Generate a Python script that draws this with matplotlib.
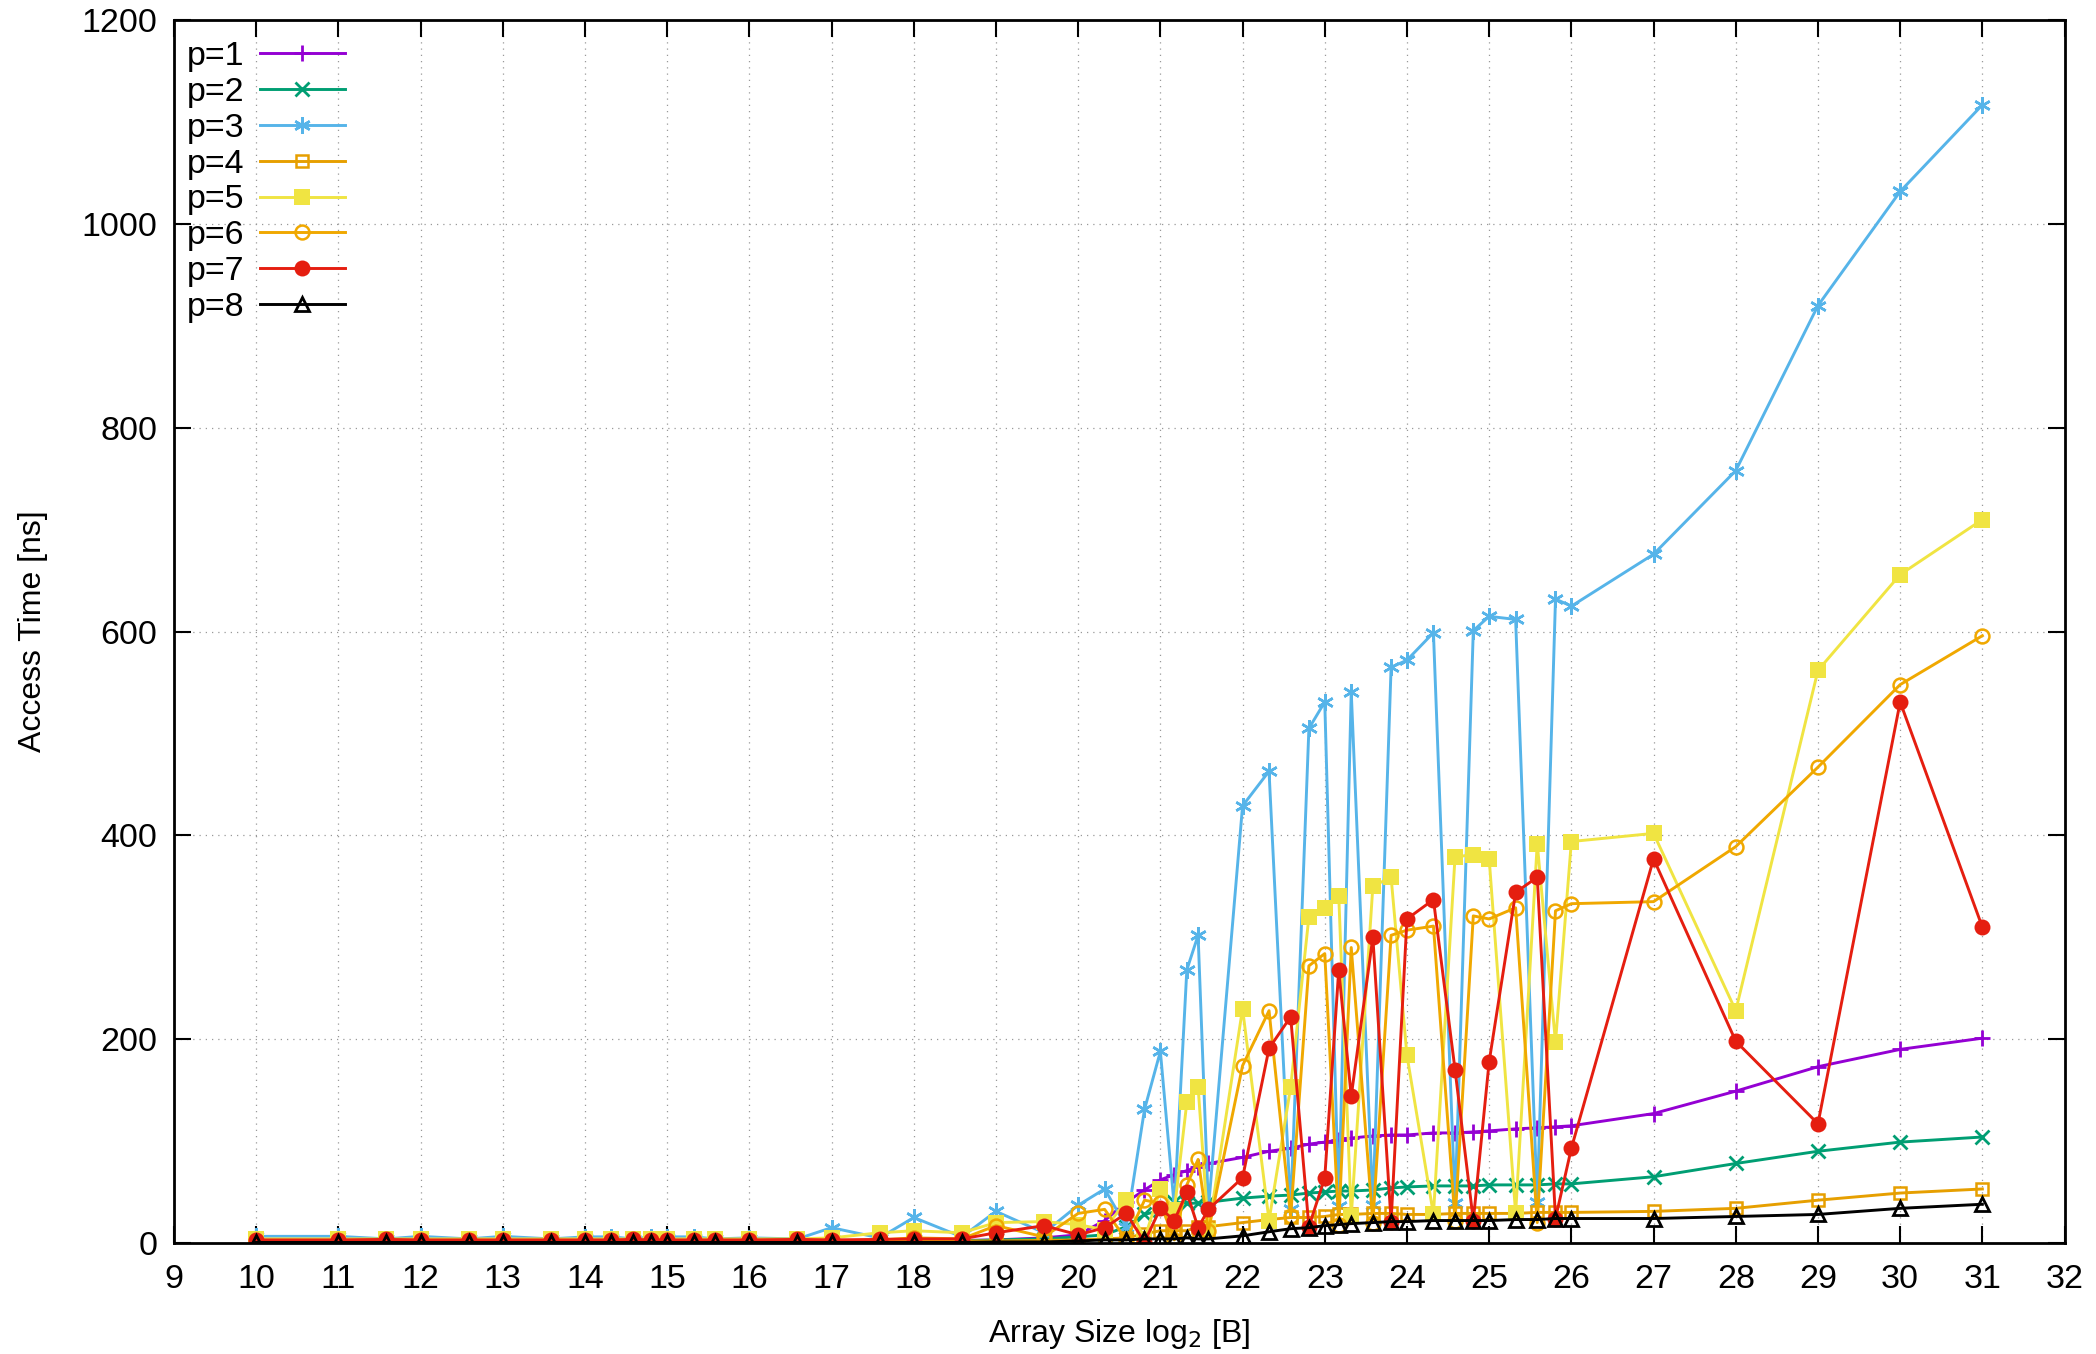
import matplotlib
matplotlib.use("Agg")
import matplotlib.pyplot as plt

plt.rcParams['font.family'] = ['Liberation Sans', 'DejaVu Sans']

# x positions: log2 of array size in bytes
x = [10, 11, 11.585, 12, 12.585, 13, 13.585, 14, 14.322, 14.585, 14.807, 15,
     15.322, 15.585, 16, 16.585, 17, 17.585, 18, 18.585, 19, 19.585, 20,
     20.322, 20.585, 20.807, 21, 21.17, 21.322, 21.459, 21.585,
     22, 22.322, 22.585, 22.807, 23, 23.17, 23.322, 23.585, 23.807,
     24, 24.322, 24.585, 24.807, 25, 25.322, 25.585, 25.807,
     26, 27, 28, 29, 30, 31]

p1 = [2.5, 2.5, 2.5, 2.5, 2.5, 2.5, 2.5, 2.5, 2.5, 2.5, 2.5, 2.5,
      2.5, 2.5, 2.5, 2.5, 2.5, 2.5, 2.5, 2.5, 3, 5, 8,
      22, 40, 52, 62, 67, 71, 75, 78,
      84, 90, 93, 97, 99, 101, 103, 105, 106,
      106, 108, 108, 109, 110, 112, 113, 114,
      115, 127, 149, 173, 190, 201]

p2 = [2, 2, 2, 2, 2, 2, 2, 2, 2, 2, 2, 2,
      2, 2, 2, 2, 2, 2, 2, 2, 3, 4, 6,
      8, 16, 28, 32, 40, 39, 39, 40,
      44, 46, 47, 49, 50, 51, 51, 52, 54,
      55, 56, 56, 56, 57, 57, 57, 58,
      58, 65, 78, 90, 99, 104]

p3 = [6.5, 6.5, 4, 6.5, 4, 6.5, 4, 6, 6, 4, 6, 6,
      6, 4, 5, 4, 15, 5, 25, 6, 31, 10, 37,
      53, 16, 131, 188, 35, 268, 302, 34,
      429, 463, 33, 505, 531, 36, 541, 37, 565,
      572, 599, 39, 601, 615, 612, 40, 632,
      625, 676, 758, 920, 1032, 1117]

p4 = [1.5, 1.5, 1.5, 1.5, 1.5, 1.5, 1.5, 1.5, 1.5, 1.5, 1.5, 1.5,
      1.5, 1.5, 1.5, 1.5, 1.5, 1.5, 2, 2, 2, 2.5, 3,
      4, 5, 9, 12, 12, 12, 16, 16,
      20, 23, 25, 25, 26, 28, 28, 29, 29,
      28, 28, 29, 29, 29, 29, 30, 30,
      30, 31, 34, 42, 49, 53]

p5 = [4, 4, 4, 4, 4, 4, 4, 4, 4, 4, 4, 4,
      4, 4, 4, 4, 5, 10, 12, 10, 20, 21, 18,
      13, 42, 4, 53, 32, 138, 153, 12,
      230, 22, 153, 320, 329, 341, 26, 350, 359,
      184, 28, 379, 381, 377, 29, 392, 197,
      394, 402, 228, 562, 656, 710]

p6 = [2, 2, 2, 2, 2, 2, 2, 2, 2, 2, 2, 2,
      2, 2, 2, 2, 2, 3, 5, 4, 17, 6, 29,
      33, 3, 42, 39, 3, 57, 82, 12,
      174, 228, 26, 272, 284, 18, 290, 20, 302,
      307, 311, 22, 321, 318, 329, 20, 326,
      333, 335, 389, 467, 548, 596]

p7 = [3, 3, 3.5, 3, 3, 3, 3, 3, 3, 3.5, 3, 3,
      3, 3, 3, 3.5, 3, 3.5, 4, 4, 10, 17, 8,
      15, 29, 1, 34, 22, 50, 15, 33,
      64, 191, 222, 16, 64, 268, 144, 300, 21,
      318, 337, 170, 22, 178, 344, 359, 24,
      93, 377, 198, 117, 531, 310]

p8 = [0.5, 0.5, 0.5, 0.5, 0.5, 0.5, 0.5, 0.5, 0.5, 0.5, 0.5, 0.5,
      0.5, 0.5, 0.5, 0.5, 0.5, 0.5, 0.5, 0.5, 1, 1, 2,
      3, 3, 4, 4, 4, 5, 4, 4,
      7, 11, 14, 15, 17, 18, 19, 20, 21,
      21, 22, 22, 22, 22, 23, 23, 24,
      24, 24, 26, 28, 34, 38]

labels = ['p=1', 'p=2', 'p=3', 'p=4', 'p=5', 'p=6', 'p=7', 'p=8']
series = [p1, p2, p3, p4, p5, p6, p7, p8]
colors = ['#9400d3', '#009e73', '#56b4e9', '#e69f00', '#f0e442', '#f0a800', '#e51e10', '#000000']
asterisk = (6, 2, 0)
styles = [
    dict(marker='+', ms=12, mew=2.0),
    dict(marker='x', ms=10, mew=2.0),
    dict(marker=asterisk, ms=12, mew=1.8),
    dict(marker='s', ms=9, mew=1.8, mfc='none'),
    dict(marker='s', ms=11, mew=0),
    dict(marker='o', ms=10, mew=1.8, mfc='none'),
    dict(marker='o', ms=11.5, mew=0),
    dict(marker='^', ms=10, mew=2.0, mfc='none'),
]

FS = 24.5
LFS = 23
fig = plt.figure(figsize=(20.96, 13.54), dpi=100)
ax = fig.add_axes([0.083, 0.082, 0.902, 0.903])

for lab, y, c, st in zip(labels, series, colors, styles):
    ax.plot(x, y, color=c, lw=2.1, label=lab, **st)

ax.set_xlim(9, 32)
ax.set_ylim(0, 1200)
ax.set_xticks(range(9, 33))
ax.set_yticks(range(0, 1201, 200))
ax.grid(True, linestyle=(0, (1, 4)), color='#999999', lw=0.9)
ax.tick_params(direction='in', length=12, width=1.5, top=True, right=True,
               labelsize=FS, colors='black')
ax.tick_params(axis='x', pad=15)
ax.tick_params(axis='y', pad=12)
for s in ax.spines.values():
    s.set_linewidth(2)

ax.set_xlabel('Array Size log$_2$ [B]', fontsize=LFS, labelpad=16)
ax.set_ylabel('Access Time [ns]', fontsize=LFS, labelpad=24)

leg = ax.legend(loc='upper left', bbox_to_anchor=(-0.004, 1.0), frameon=False,
                fontsize=FS, markerfirst=False,
                handlelength=2.5, labelspacing=0.145, borderaxespad=0.45,
                handletextpad=0.45, numpoints=1, borderpad=0.15)

fig.savefig('out.png', dpi=100)
